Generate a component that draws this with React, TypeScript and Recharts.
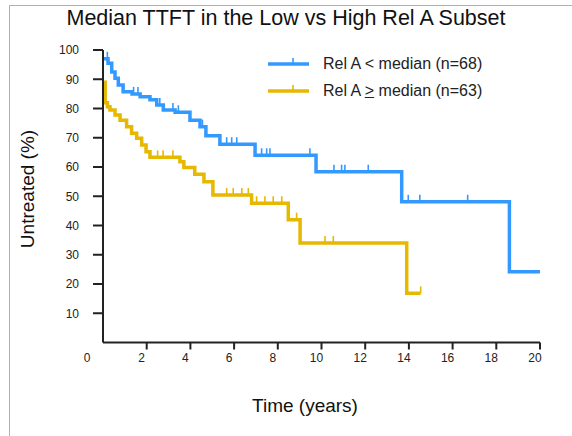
import React from "react";
import {
  ComposedChart,
  Line,
  Scatter,
  XAxis,
  YAxis,
  Legend,
} from "recharts";

// step points (time in years, % untreated)
const lowTimes = [0, 0.23, 0.4, 0.55, 0.7, 0.92, 1.33, 1.7, 2.15, 2.46, 2.76, 3.3, 3.98, 4.44, 4.71, 5.35, 6.96, 9.75, 13.67, 18.6, 20];
const lowSurv = [97, 95.5, 92.5, 90.3, 88, 85.7, 85, 84, 83, 81.2, 79.5, 78.7, 76, 73.8, 70.7, 67.8, 64, 58.4, 48.1, 24.2, 24.2];
const lowCensored = [0.2, 1.4, 1.6, 2.6, 3.2, 3.45, 4.55, 5.66, 5.89, 6.12, 7.26, 7.49, 7.64, 9.47, 10.57, 10.92, 11.07, 12.14, 13.97, 14.5, 16.69];

const highTimes = [0, 0.1, 0.2, 0.32, 0.55, 0.78, 1.08, 1.31, 1.54, 1.77, 1.97, 2.15, 3.52, 3.7, 4.2, 4.62, 5.03, 6.8, 8.48, 9.02, 13.9, 14.54];
const highSurv = [89, 82, 80.6, 79.5, 77.8, 76, 73.8, 71.5, 69.8, 67.5, 65.2, 63.3, 61.8, 59.8, 57.5, 55, 50.4, 47.6, 42, 34, 16.8, 16.8];
const highCensored = [2.5, 2.75, 3.2, 5.66, 5.96, 6.35, 6.65, 7.03, 7.41, 7.79, 8.18, 8.86, 10.16, 10.54, 14.54];

const xTicks = [0, 2, 4, 6, 8, 10, 12, 14, 16, 18, 20];
const yTicks = [10, 20, 30, 40, 50, 60, 70, 80, 90, 100];

const BLUE = "#3399ff";
const GOLD = "#e6b800";
const FONT = "'Liberation Sans', Arial, sans-serif";

const toRows = (times: number[], surv: number[]) =>
  times.map((t, i) => ({ t, v: surv[i] }));

// value of the step curve at time t (for placing censor ticks on it)
const stepAt = (times: number[], surv: number[], t: number) => {
  let v = surv[0];
  for (let i = 0; i < times.length; i++) {
    if (times[i] <= t) v = surv[i];
  }
  return v;
};

const lowData = toRows(lowTimes, lowSurv);
const highData = toRows(highTimes, highSurv);
const lowMarks = lowCensored.map((t) => ({ t, v: stepAt(lowTimes, lowSurv, t) }));
const highMarks = highCensored.map((t) => ({ t, v: stepAt(highTimes, highSurv, t) }));

const censorShape = (color: string) => (props: any) => (
  <line
    x1={props.cx}
    x2={props.cx}
    y1={props.cy}
    y2={props.cy - 7}
    stroke={color}
    strokeWidth={1.6}
  />
);

function XTick(props: any) {
  const { x, y, payload } = props;
  const isZero = payload.value === 0;
  return (
    <g>
      {!isZero && <line x1={x} x2={x} y1={y} y2={y + 7} stroke="#222" strokeWidth={2} />}
      <text
        x={isZero ? x - 16 : x - 5}
        y={y + 15.5}
        dy="0.355em"
        textAnchor="middle"
        fontSize={12}
        fill="#222"
        fontFamily={FONT}
      >
        {payload.value}
      </text>
    </g>
  );
}

function LegendBox() {
  const row = (color: string, top: number, label: React.ReactNode) => (
    <div style={{ position: "absolute", left: 0, top, height: 20, display: "flex", alignItems: "center" }}>
      <svg width={44} height={20} style={{ display: "block" }}>
        <line x1={3} x2={44} y1={10} y2={10} stroke={color} strokeWidth={3.5} />
        <line x1={28} x2={28} y1={10} y2={4} stroke={color} strokeWidth={1.6} />
      </svg>
      <span style={{ marginLeft: 14, fontSize: 16, color: "#222", fontFamily: FONT, whiteSpace: "nowrap" }}>
        {label}
      </span>
    </div>
  );
  return (
    <div style={{ position: "relative", width: 260, height: 60 }}>
      {row(BLUE, 4, "Rel A < median (n=68)")}
      {row(
        GOLD,
        31,
        <>
          Rel A <span style={{ textDecoration: "underline" }}>&gt;</span> median (n=63)
        </>
      )}
    </div>
  );
}

export default function App() {
  return (
    <div
      style={{
        position: "absolute",
        left: 0,
        top: 0,
        width: 572,
        height: 436,
        background: "#fff",
        fontFamily: FONT,
        overflow: "hidden",
      }}
    >
      <div
        style={{
          position: "absolute",
          left: 9,
          top: 5,
          width: 570,
          height: 440,
          borderTop: "1px solid #8fb9e3",
          borderLeft: "1px solid #8fb9e3",
        }}
      />
      <div
        style={{
          position: "absolute",
          left: 0,
          top: 6,
          width: 572,
          textAlign: "center",
          fontSize: 21.5,
          color: "#111",
          fontFamily: FONT,
        }}
      >
        Median TTFT in the Low vs High Rel A Subset
      </div>
      <div style={{ position: "absolute", left: 0, top: 0 }}>
        <ComposedChart
          width={572}
          height={436}
          margin={{ top: 50, right: 32, bottom: 43.5, left: 43 }}
        >
          <XAxis
            dataKey="t"
            type="number"
            domain={[0, 20]}
            ticks={xTicks}
            allowDataOverflow
            height={50}
            tickLine={false}
            tickSize={0}
            tickMargin={0}
            tick={<XTick />}
            axisLine={{ stroke: "#222", strokeWidth: 2 }}
            label={{
              content: () => (
                <text x={305} y={405} dy="0.355em" textAnchor="middle" fontSize={19} fill="#111" fontFamily={FONT}>
                  Time (years)
                </text>
              ),
            }}
          />
          <YAxis
            dataKey="v"
            type="number"
            domain={[0, 100]}
            ticks={yTicks}
            width={60}
            tickSize={10}
            tickMargin={14}
            tick={{ fontSize: 12, fill: "#222", fontFamily: FONT }}
            tickLine={{ stroke: "#222", strokeWidth: 2 }}
            axisLine={{ stroke: "#222", strokeWidth: 2 }}
            label={{
              content: () => (
                <text
                  x={27}
                  y={189}
                  dy="0.355em"
                  textAnchor="middle"
                  fontSize={19}
                  fill="#111"
                  fontFamily={FONT}
                  transform="rotate(-90 27 189)"
                >
                  Untreated (%)
                </text>
              ),
            }}
          />
          <Legend
            layout="vertical"
            align="center"
            verticalAlign="middle"
            content={() => <LegendBox />}
            wrapperStyle={{ left: 265, top: 50, width: 260, height: 60 }}
          />
          <Line
            data={lowData}
            dataKey="v"
            type="stepAfter"
            stroke={BLUE}
            strokeWidth={3.5}
            dot={false}
            activeDot={false}
            isAnimationActive={false}
            legendType="none"
          />
          <Line
            data={highData}
            dataKey="v"
            type="stepAfter"
            stroke={GOLD}
            strokeWidth={3.5}
            dot={false}
            activeDot={false}
            isAnimationActive={false}
            legendType="none"
          />
          <Scatter
            data={lowMarks}
            dataKey="v"
            shape={censorShape(BLUE)}
            isAnimationActive={false}
            legendType="none"
          />
          <Scatter
            data={highMarks}
            dataKey="v"
            shape={censorShape(GOLD)}
            isAnimationActive={false}
            legendType="none"
          />
        </ComposedChart>
      </div>
    </div>
  );
}
